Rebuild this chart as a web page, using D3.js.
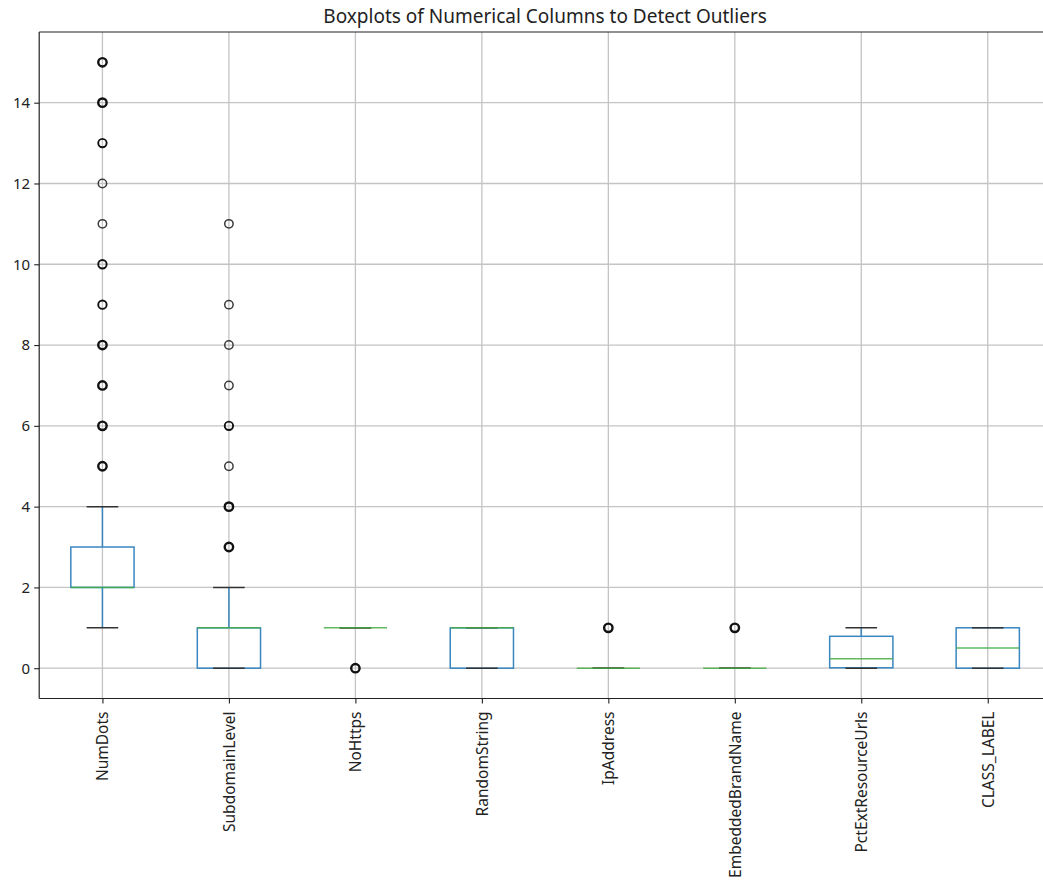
<!DOCTYPE html>
<html>
<head>
<meta charset="utf-8">
<script src="https://cdn.jsdelivr.net/npm/d3@7"></script>
<style>
  html, body { margin: 0; padding: 0; background: #fff; }
  svg { display: block; font-family: "Noto Sans", "Open Sans", sans-serif; }
</style>
</head>
<body>
<svg id="chart" width="1043" height="882"></svg>
<script>
// Column names (one box per column)
const categories = ["NumDots", "SubdomainLevel", "NoHttps", "RandomString",
  "IpAddress", "EmbeddedBrandName", "PctExtResourceUrls", "CLASS_LABEL"];

// Five-number summaries per column
const whiskerLow  = [1, 0, 1, 0, 0, 0, 0,    0];
const q1          = [2, 0, 1, 0, 0, 0, 0.01, 0];
const medians     = [2, 1, 1, 1, 0, 0, 0.235, 0.5];
const q3          = [3, 1, 1, 1, 0, 0, 0.79, 1];
const whiskerHigh = [4, 2, 1, 1, 0, 0, 1,    1];

// Outlier values per column, with a rough weight for how many rows share each value
const outlierValues = [
  [5, 6, 7, 8, 9, 10, 11, 12, 13, 14, 15],
  [3, 4, 5, 6, 7, 8, 9, 11],
  [0],
  [],
  [1],
  [1],
  [],
  []
];
const outlierCounts = [
  [3, 3, 3, 3, 2, 2, 1, 1, 2, 3, 3],
  [3, 3, 1, 2, 1, 1, 1, 1],
  [3],
  [],
  [3],
  [3],
  [],
  []
];

const yTicks = [0, 2, 4, 6, 8, 10, 12, 14];

const svg = d3.select("#chart");
const plotLeft = 39.2, plotRight = 1051, plotTop = 32, plotBottom = 698.5;
const fontFamily = "Noto Sans, Open Sans, sans-serif";

const x = d3.scalePoint().domain(categories).range([plotLeft, plotRight]).padding(0.5);
const y = d3.scaleLinear().domain([-0.75, 15.75]).range([plotBottom, plotTop]);
const step = x.step();
const boxW = step * 0.5, capW = step * 0.25;

svg.append("defs").append("clipPath").attr("id", "plotclip")
  .append("rect").attr("x", plotLeft).attr("y", plotTop)
  .attr("width", plotRight - plotLeft).attr("height", plotBottom - plotTop);

const gridColor = "#c4c4c4";

// grid lines
const grid = svg.append("g").attr("clip-path", "url(#plotclip)");
grid.selectAll(".gy").data(yTicks).join("line")
  .attr("x1", plotLeft).attr("x2", plotRight)
  .attr("y1", d => y(d)).attr("y2", d => y(d))
  .attr("stroke", gridColor).attr("stroke-width", 1.3);
grid.selectAll(".gx").data(categories).join("line")
  .attr("x1", d => x(d)).attr("x2", d => x(d))
  .attr("y1", plotTop).attr("y2", plotBottom)
  .attr("stroke", gridColor).attr("stroke-width", 1.3);

// axes
const yAxis = d3.axisLeft(y).tickValues(yTicks).tickSize(5).tickPadding(4);
const gy = svg.append("g").attr("transform", `translate(${plotLeft},0)`).call(yAxis);
gy.select(".domain").remove();
gy.selectAll(".tick line").attr("stroke", "#222").attr("stroke-width", 1.1);
gy.selectAll(".tick text").attr("font-size", 15).attr("fill", "#222")
  .attr("font-family", fontFamily);

const xAxis = d3.axisBottom(x).tickSize(5).tickPadding(0);
const gx = svg.append("g").attr("transform", `translate(0,${plotBottom})`).call(xAxis);
gx.select(".domain").remove();
gx.selectAll(".tick line").attr("stroke", "#222").attr("stroke-width", 1.1);
gx.selectAll(".tick text")
  .attr("font-size", 15.5).attr("fill", "#222")
  .attr("font-family", fontFamily)
  .attr("transform", "rotate(-90)")
  .attr("text-anchor", "end")
  .attr("dy", "0.35em")
  .attr("x", -13).attr("y", 0);

const plot = svg.append("g").attr("clip-path", "url(#plotclip)");
const blue = "#3a86c0", green = "#44ad44";

categories.forEach((c, i) => {
  const cx = x(c);
  const g = plot.append("g");
  // whiskers
  g.append("line").attr("x1", cx).attr("x2", cx)
    .attr("y1", y(q1[i])).attr("y2", y(whiskerLow[i]))
    .attr("stroke", blue).attr("stroke-width", 1.5);
  g.append("line").attr("x1", cx).attr("x2", cx)
    .attr("y1", y(q3[i])).attr("y2", y(whiskerHigh[i]))
    .attr("stroke", blue).attr("stroke-width", 1.5);
  // box
  g.append("rect").attr("x", cx - boxW / 2).attr("width", boxW)
    .attr("y", y(q3[i])).attr("height", Math.max(0, y(q1[i]) - y(q3[i])))
    .attr("fill", "none").attr("stroke", blue).attr("stroke-width", 1.5);
  // caps
  [whiskerLow[i], whiskerHigh[i]].forEach(v => {
    g.append("line").attr("x1", cx - capW / 2).attr("x2", cx + capW / 2)
      .attr("y1", y(v)).attr("y2", y(v))
      .attr("stroke", "#333").attr("stroke-width", 1.5);
  });
  // median
  g.append("line").attr("x1", cx - boxW / 2).attr("x2", cx + boxW / 2)
    .attr("y1", y(medians[i])).attr("y2", y(medians[i]))
    .attr("stroke", green).attr("stroke-width", 1.5).attr("stroke-opacity", 0.85);
  // fliers
  outlierValues[i].forEach((v, k) => {
    const n = outlierCounts[i][k];
    g.append("circle").attr("cx", cx).attr("cy", y(v)).attr("r", 4.2)
      .attr("fill", "none")
      .attr("stroke", n === 1 ? "#3a3a3a" : "#111")
      .attr("stroke-width", n === 1 ? 1.5 : (n === 2 ? 1.9 : 2.4));
  });
});

// spines (right spine falls outside the canvas)
svg.append("line").attr("x1", plotLeft).attr("x2", plotLeft).attr("y1", plotTop).attr("y2", plotBottom)
  .attr("stroke", "#222").attr("stroke-width", 1.2);
svg.append("line").attr("x1", plotLeft).attr("x2", plotRight).attr("y1", plotBottom).attr("y2", plotBottom)
  .attr("stroke", "#222").attr("stroke-width", 1.2);
svg.append("line").attr("x1", plotLeft).attr("x2", plotRight).attr("y1", plotTop).attr("y2", plotTop)
  .attr("stroke", "#222").attr("stroke-width", 1.2);

// title
svg.append("text").attr("x", (plotLeft + plotRight) / 2).attr("y", 23)
  .attr("text-anchor", "middle").attr("font-size", 19).attr("fill", "#222")
  .attr("font-family", fontFamily)
  .text("Boxplots of Numerical Columns to Detect Outliers");
</script>
</body>
</html>
